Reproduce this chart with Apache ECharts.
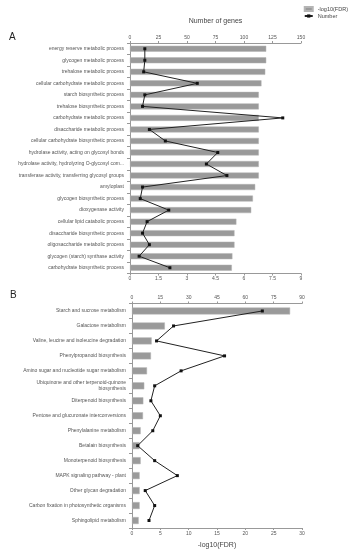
<!DOCTYPE html>
<html><head><meta charset="utf-8">
<script src="https://cdn.jsdelivr.net/npm/echarts@6/dist/echarts.min.js"></script>
<style>html,body{margin:0;padding:0;background:#fff}#c{width:354px;height:550px}</style>
</head><body><div id="c"></div>
<script>
var catsA = ["energy reserve metabolic process","glycogen metabolic process","trehalose metabolic process","cellular carbohydrate metabolic process","starch biosynthetic process","trehalose biosynthetic process","carbohydrate metabolic process","disaccharide metabolic process","cellular carbohydrate biosynthetic process","hydrolase activity, acting on glycosyl bonds","hydrolase activity, hydrolyzing O-glycosyl com...","transferase activity, transferring glycosyl groups","amyloplast","glycogen biosynthetic process","dioxygenase activity","cellular lipid catabolic process","disaccharide biosynthetic process","oligosaccharide metabolic process","glycogen (starch) synthase activity","carbohydrate biosynthetic process"];
var fdrA = [7.17,7.17,7.12,6.92,6.78,6.78,6.78,6.78,6.78,6.78,6.78,6.78,6.59,6.47,6.38,5.6,5.5,5.5,5.39,5.36];
var numA = [13,13,12,59,13,11,134,17,31,77,67,85,11,9,34,15,11,17,8,35];

var catsB = ["Starch and sucrose metabolism","Galactose metabolism","Valine, leucine and isoleucine degradation","Phenylpropanoid biosynthesis","Amino sugar and nucleotide sugar metabolism","Ubiquinone and other terpenoid-quinone\nbiosynthesis","Diterpenoid biosynthesis","Pentose and glucuronate interconversions","Phenylalanine metabolism","Betalain biosynthesis","Monoterpenoid biosynthesis","MAPK signaling pathway - plant","Other glycan degradation","Carbon fixation in photosynthetic organisms","Sphingolipid metabolism"];
var fdrB = [27.9,5.8,3.47,3.35,2.65,2.17,2.0,1.94,1.53,1.35,1.53,1.35,1.35,1.35,1.18];
var numB = [69,22,13,49,26,12,10,15,11,3,12,24,7,12,9];

var ticksA_bottom = {min:0,max:9,interval:1.5};
var ticksA_top = {min:0,max:150,interval:25};
var ticksB_bottom = {min:0,max:30,interval:5};
var ticksB_top = {min:0,max:90,interval:15};

var axCol = '#999', txtCol = '#555';
function valAxis(grid, pos, t, name){
  return {type:'value', gridIndex:grid, position:pos, min:t.min, max:t.max, interval:t.interval,
    name:name||'', nameLocation:'middle', nameGap: pos==='top'?18:14,
    nameTextStyle:{fontSize:7,color:'#444',fontFamily:'Liberation Sans'},
    axisLine:{show:true,lineStyle:{color:axCol,width:1}},
    axisTick:{show:true,length:2,lineStyle:{color:axCol}},
    axisLabel:{fontSize:5,color:txtCol,margin:3,fontFamily:'Liberation Sans'},
    splitLine:{show:false}};
}
function catAxis(grid, cats){
  return {type:'category', gridIndex:grid, data:cats, inverse:true,
    axisLine:{show:true,lineStyle:{color:axCol,width:1}},
    axisTick:{show:true,length:3,lineStyle:{color:axCol}},
    axisLabel:{fontSize:5,color:txtCol,margin:6,fontFamily:'Liberation Sans',lineHeight:6,align:'right'}};
}
var barStyle = {color:'#9a9a9a', borderColor:'#b5b5b5', borderWidth:0.5};
var lineStyle = {color:'#222', width:1};

var chart = echarts.init(document.getElementById('c'), null, {renderer:'canvas'});
chart.setOption({
  animation:false,
  backgroundColor:'#fff',
  legend:{orient:'vertical', right:1, top:1, itemGap:1, itemWidth:8, itemHeight:4, align:'left',
    textStyle:{fontSize:5.5,color:'#444',fontFamily:'Liberation Sans'},
    data:[{name:'-log10(FDR)', icon:'rect', itemStyle:{color:'#9a9a9a'}},{name:'Number'}]},
  title:[{text:'A',left:4,top:27,textStyle:{fontSize:10,fontWeight:'normal',color:'#222',fontFamily:'Liberation Sans'}},
         {text:'B',left:5,top:285,textStyle:{fontSize:10,fontWeight:'normal',color:'#222',fontFamily:'Liberation Sans'}}],
  grid:[{left:130,top:43,width:171,height:230.5},{left:132,top:303.5,width:170,height:225}],
  xAxis:[valAxis(0,'bottom',ticksA_bottom),valAxis(0,'top',ticksA_top,'Number of genes'),
         valAxis(1,'bottom',ticksB_bottom,'-log10(FDR)'),valAxis(1,'top',ticksB_top)],
  yAxis:[catAxis(0,catsA),catAxis(1,catsB)],
  series:[
    {name:'-log10(FDR)',type:'bar',xAxisIndex:0,yAxisIndex:0,data:fdrA,barWidth:6,itemStyle:barStyle},
    {name:'Number',type:'line',xAxisIndex:1,yAxisIndex:0,data:numA,symbol:'rect',symbolSize:3,showSymbol:true,
      lineStyle:lineStyle,itemStyle:{color:'#111'}},
    {name:'-log10(FDR)',type:'bar',xAxisIndex:2,yAxisIndex:1,data:fdrB,barWidth:7,itemStyle:barStyle},
    {name:'Number',type:'line',xAxisIndex:3,yAxisIndex:1,data:numB,symbol:'rect',symbolSize:3,showSymbol:true,
      lineStyle:lineStyle,itemStyle:{color:'#111'}}
  ]
});
</script></body></html>
